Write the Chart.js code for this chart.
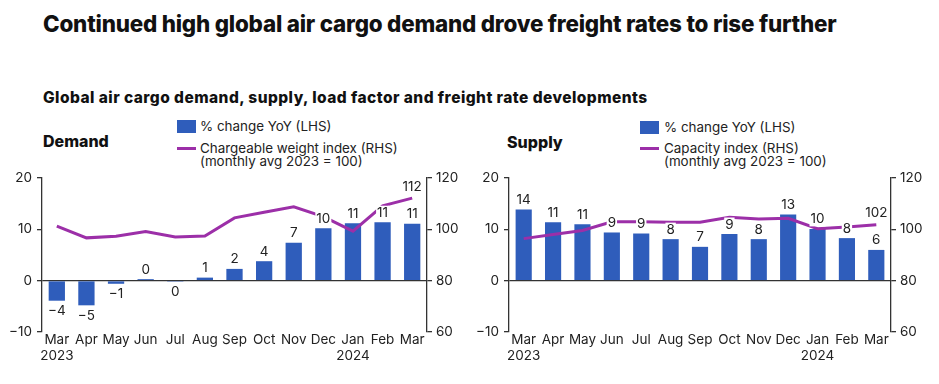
<!DOCTYPE html>
<html>
<head>
<meta charset="utf-8">
<script src="https://cdn.jsdelivr.net/npm/chart.js@4.4.1/dist/chart.umd.min.js"></script>
<style>
  body { margin: 0; background: #fff; }
  #wrap { position: relative; width: 939px; height: 384px; font-family: Inter, "Noto Sans", sans-serif; color: #111; overflow: hidden; }
  .abs { position: absolute; white-space: nowrap; }
  .title { left: 43px; top: 10px; font-size: 22.4px; font-weight: 800; letter-spacing: -0.2px; }
  .sub { left: 43px; top: 88px; font-size: 15.5px; font-weight: 800; letter-spacing: 0.45px; }
  .panel { font-size: 16px; font-weight: 800; }
  .leg { font-size: 13.4px; line-height: 13px; color: #222; }
  .box { width: 19px; height: 13px; background: #2f5dbb; }
  .ln { width: 19px; height: 3px; background: #9c2fa8; }
  canvas { position: absolute; }
</style>
</head>
<body>
<div id="wrap">
  <div class="abs title">Continued high global air cargo demand drove freight rates to rise further</div>
  <div class="abs sub">Global air cargo demand, supply, load factor and freight rate developments</div>

  <div class="abs panel" style="left:43px;top:131px;">Demand</div>
  <div class="abs box" style="left:177px;top:120px;"></div>
  <div class="abs leg" style="left:200px;top:120px;">% change YoY (LHS)</div>
  <div class="abs ln" style="left:177px;top:147px;"></div>
  <div class="abs leg" style="left:200px;top:142px;">Chargeable weight index (RHS)<br>(monthly avg 2023 = 100)</div>

  <div class="abs panel" style="left:507px;top:132px;">Supply</div>
  <div class="abs box" style="left:640px;top:121px;"></div>
  <div class="abs leg" style="left:664px;top:121px;">% change YoY (LHS)</div>
  <div class="abs ln" style="left:640px;top:147px;"></div>
  <div class="abs leg" style="left:664px;top:142px;">Capacity index (RHS)<br>(monthly avg 2023 = 100)</div>

  <canvas id="demandChart" width="470" height="219" style="left:0;top:165px;"></canvas>
  <canvas id="supplyChart" width="469" height="219" style="left:470px;top:165px;"></canvas>
</div>

<script>
// categories
const months = [['Mar', '2023'], 'Apr', 'May', 'Jun', 'Jul', 'Aug', 'Sep', 'Oct', 'Nov', 'Dec', ['Jan', '2024'], 'Feb', 'Mar'];

// demand panel
const demandYoY = [-3.9, -4.8, -0.6, 0.3, -0.2, 0.6, 2.3, 3.8, 7.4, 10.2, 11.2, 11.4, 11.1];
const chargeableWeight = [101.3, 96.7, 97.3, 99.2, 97.0, 97.4, 104.5, 106.7, 108.8, 105.0, 99.3, 109.2, 112.2];

// supply panel
const supplyYoY = [13.9, 11.4, 11.0, 9.4, 9.2, 8.1, 6.6, 9.1, 8.1, 12.9, 10.1, 8.3, 6.0];
const capacityIndex = [96.4, 98.0, 99.6, 103.0, 103.0, 102.8, 102.8, 104.7, 104.1, 104.3, 100.3, 100.9, 101.8];

// tick values
const leftTicks = [-10, 0, 10, 20];
const rightTicks = [60, 80, 100, 120];

const barColor = '#2f5dbb';
const lineColor = '#9c2fa8';
const axisColor = '#333';
const fontFamily = 'Inter, "Noto Sans", sans-serif';

// draws the numbers on the bars and the last point of the line
const valueLabels = {
    id: 'valueLabels',
    afterDatasetsDraw(chart) {
        const ctx = chart.ctx;
        ctx.save();
        ctx.font = '13.5px ' + fontFamily;
        ctx.textAlign = 'center';
        ctx.textBaseline = 'middle';

        const drawLabel = (text, x, y) => {
            const w = ctx.measureText(text).width;
            ctx.fillStyle = '#fff';
            ctx.fillRect(x - w / 2 - 1, y - 7, w + 2, 14);
            ctx.fillStyle = '#222';
            ctx.fillText(text, x, y);
        };

        const barMeta = chart.getDatasetMeta(1);
        const barData = chart.data.datasets[1].data;
        barMeta.data.forEach((bar, i) => {
            const v = barData[i];
            const text = String(Math.round(v)).replace('-0', '0').replace('-', '\u2212');
            if (v >= 0) {
                drawLabel(text, bar.x, bar.y - 9.5);
            } else {
                drawLabel(text, bar.x, Math.max(bar.y, bar.base) + 10.5);
            }
        });

        const lineMeta = chart.getDatasetMeta(0);
        const lineData = chart.data.datasets[0].data;
        const last = lineMeta.data[lineMeta.data.length - 1];
        drawLabel(String(Math.round(lineData[lineData.length - 1])), last.x, last.y - 11.5);
        ctx.restore();
    }
};

function makeChart(canvasId, bars, line, leftWidth, rightWidth) {
    const tickFont = { family: fontFamily, size: 13.5 };
    return new Chart(document.getElementById(canvasId), {
        type: 'bar',
        data: {
            labels: months,
            datasets: [
                {
                    type: 'line',
                    data: line,
                    yAxisID: 'y1',
                    borderColor: lineColor,
                    borderWidth: 3,
                    pointRadius: 0,
                    tension: 0,
                    order: 0,
                },
                {
                    type: 'bar',
                    data: bars,
                    yAxisID: 'y',
                    backgroundColor: barColor,
                    categoryPercentage: 1,
                    barPercentage: 0.55,
                    order: 1,
                },
            ],
        },
        options: {
            responsive: false,
            animation: false,
            layout: { padding: { top: 12, left: 0, right: 0, bottom: 0 } },
            plugins: { legend: { display: false }, tooltip: { enabled: false } },
            scales: {
                x: {
                    grid: { display: false, drawTicks: false },
                    border: { display: false },
                    ticks: { color: '#222', font: tickFont, padding: 0, maxRotation: 0, autoSkip: false },
                    afterFit: s => { s.height = 52; },
                },
                y: {
                    position: 'left',
                    min: leftTicks[0],
                    max: leftTicks[leftTicks.length - 1],
                    afterBuildTicks: s => { s.ticks = leftTicks.map(v => ({ value: v })); },
                    border: { display: true, color: axisColor, width: 1.3 },
                    grid: {
                        drawOnChartArea: true,
                        color: c => (c.tick && c.tick.value === 0 ? axisColor : 'rgba(0,0,0,0)'),
                        lineWidth: 1.3,
                        tickColor: axisColor,
                        tickLength: 5,
                    },
                    ticks: { color: '#222', font: tickFont, padding: 5, callback: v => String(v).replace('-', '\u2212') },
                    afterFit: s => { s.width = leftWidth; },
                },
                y1: {
                    position: 'right',
                    min: rightTicks[0],
                    max: rightTicks[rightTicks.length - 1],
                    afterBuildTicks: s => { s.ticks = rightTicks.map(v => ({ value: v })); },
                    border: { display: true, color: axisColor, width: 1.3 },
                    grid: { drawOnChartArea: false, tickColor: axisColor, tickLength: 5, lineWidth: 1.3 },
                    ticks: { color: '#222', font: tickFont, padding: 4 },
                    afterFit: s => { s.width = rightWidth; },
                },
            },
        },
        plugins: [valueLabels],
    });
}

makeChart('demandChart', demandYoY, chargeableWeight, 42, 43);
makeChart('supplyChart', supplyYoY, capacityIndex, 39, 48);
</script>
</body>
</html>
